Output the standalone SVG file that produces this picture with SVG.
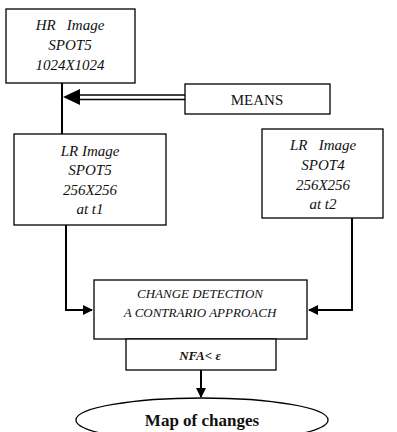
<svg xmlns="http://www.w3.org/2000/svg" width="397" height="432" viewBox="0 0 397 432">
<style>
.box{fill:#fff;stroke:#000;stroke-width:1.3}
.ln{fill:none;stroke:#000;stroke-width:2}
text{fill:#111;text-anchor:middle;font-family:'Liberation Serif',serif}
.it{font-style:italic;font-size:15px}
.sm{font-style:italic;font-size:13px}
</style>
<defs>
<marker id="ah" markerWidth="10" markerHeight="10" refX="9" refY="5" orient="auto" markerUnits="userSpaceOnUse">
<path d="M0,0 L10,5 L0,10 Z" fill="#000"/>
</marker>
</defs>
<g id="connectors">
<line class="ln" x1="62" y1="83" x2="62" y2="134"/>
<line stroke="#000" stroke-width="1.5" x1="185" y1="95" x2="78" y2="95"/>
<line stroke="#000" stroke-width="1.5" x1="185" y1="99.5" x2="78" y2="99.5"/>
<path d="M63,97 L80,89 L80,105 Z" fill="#000"/>
<polyline class="ln" points="66,225 66,310 92,310" marker-end="url(#ah)"/>
<polyline class="ln" points="352,218 352,310 309,310" marker-end="url(#ah)"/>
<line class="ln" x1="201" y1="370" x2="201" y2="397" marker-end="url(#ah)"/>
</g>
<g id="hr">
<rect class="box" x="6" y="9" width="129" height="74"/>
<text class="it" x="70" y="30" xml:space="preserve">HR   Image</text>
<text class="it" x="70" y="50">SPOT5</text>
<text class="it" x="70" y="70">1024X1024</text>
</g>
<g id="means">
<rect class="box" x="185" y="84" width="145" height="30"/>
<text x="257" y="105" font-size="15">MEANS</text>
</g>
<g id="lr1">
<rect class="box" x="14" y="134" width="152" height="91"/>
<text class="it" x="90" y="156">LR Image</text>
<text class="it" x="90" y="175">SPOT5</text>
<text class="it" x="90" y="195">256X256</text>
<text class="it" x="90" y="214">at t1</text>
</g>
<g id="lr2">
<rect class="box" x="262" y="129" width="121" height="89"/>
<text class="it" x="323" y="150" xml:space="preserve">LR   Image</text>
<text class="it" x="323" y="170">SPOT4</text>
<text class="it" x="323" y="190">256X256</text>
<text class="it" x="323" y="209">at t2</text>
</g>
<g id="cd">
<rect class="box" x="94" y="280" width="213" height="59"/>
<text class="sm" x="200" y="298">CHANGE DETECTION</text>
<text class="sm" x="200" y="317">A CONTRARIO APPROACH</text>
</g>
<g id="nfa">
<rect class="box" x="126" y="339" width="150" height="31"/>
<text class="sm" x="200" y="360" font-weight="bold">NFA&lt; ε</text>
</g>
<g id="map">
<ellipse class="box" cx="202" cy="420" rx="126" ry="22"/>
<text x="202" y="426" font-size="17" font-weight="bold">Map of changes</text>
</g>
</svg>
